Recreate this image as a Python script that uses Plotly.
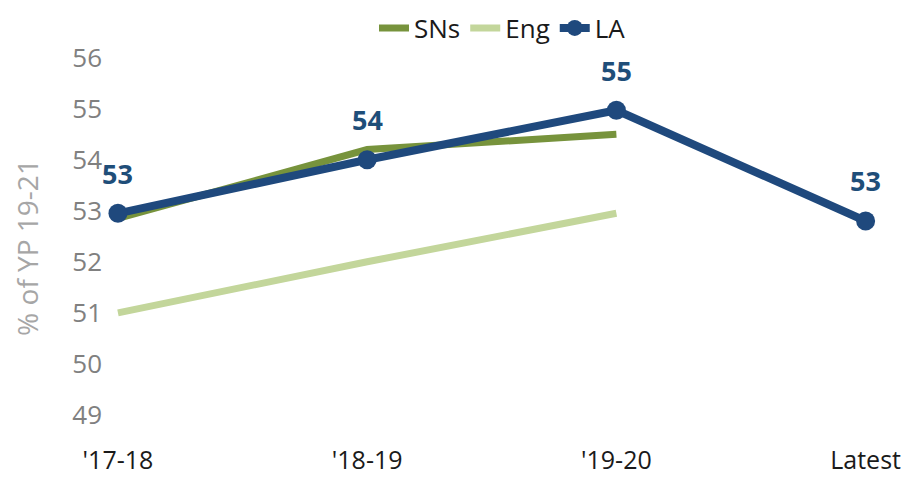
import plotly.graph_objects as go

categories = ["'17-18", "'18-19", "'19-20", "Latest"]
sns_vals = [52.85, 54.2, 54.5, None]
eng_vals = [51.0, 52.0, 52.95, None]
la_vals = [52.95, 54.0, 54.97, 52.8]
la_labels = ["53", "54", "55", "53"]
y_ticks = [49, 50, 51, 52, 53, 54, 55, 56]

fig = go.Figure()
fig.add_trace(go.Scatter(x=categories, y=sns_vals, name="SNs", mode="lines",
                         line=dict(color="#77933C", width=7)))
fig.add_trace(go.Scatter(x=categories, y=eng_vals, name="Eng", mode="lines",
                         line=dict(color="#C3D69B", width=7)))
fig.add_trace(go.Scatter(x=categories, y=la_vals, name="LA", mode="lines+markers",
                         line=dict(color="#1F497D", width=8),
                         marker=dict(color="#1F497D", size=19)))

for c, v, t in zip(categories, la_vals, la_labels):
    fig.add_annotation(x=c, y=v, text="<b>" + t + "</b>", showarrow=False, yshift=40,
                       font=dict(size=27, color="#1F4E79", family="Open Sans"))

fig.update_layout(
    width=909, height=479,
    margin=dict(l=95, r=15, t=40, b=40, autoexpand=False),
    plot_bgcolor="white", paper_bgcolor="white",
    font=dict(family="Open Sans", size=26),
    showlegend=True,
    legend=dict(orientation="h", x=0.5, xanchor="center",
                y=1.05, yanchor="middle",
                font=dict(size=26, color="#1a1a1a"),
                tracegroupgap=0),
    xaxis=dict(type="category", range=[-0.06, 3.146], showgrid=False, zeroline=False,
               showline=False, ticks="", automargin=False, ticklabelstandoff=-4,
               tickfont=dict(size=25, color="#1a1a1a")),
    yaxis=dict(range=[48.37, 56.19], tickvals=y_ticks, showgrid=False, zeroline=False,
               showline=False, ticks="", automargin=False,
               tickfont=dict(size=26, color="#808080"),
               title=dict(text="% of YP 19-21", font=dict(size=28, color="#a6a6a6"), standoff=40)),
)
fig.write_html("out.html")
